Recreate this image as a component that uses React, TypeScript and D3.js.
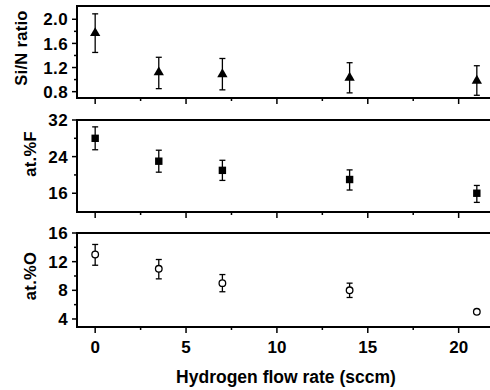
import React from "react";
import * as d3 from "d3";

const flow = [0, 3.5, 7, 14, 21];
const siN = [1.77, 1.12, 1.09, 1.03, 0.98];
const siNLo = [1.45, 0.85, 0.83, 0.78, 0.74];
const siNHi = [2.09, 1.37, 1.35, 1.28, 1.23];
const atF = [28.0, 23.0, 21.0, 19.0, 16.0];
const atFLo = [25.5, 20.6, 18.8, 16.7, 14.0];
const atFHi = [30.5, 25.4, 23.2, 21.1, 17.7];
const atO = [13.0, 11.0, 9.0, 8.0, 5.0];
const atOLo = [11.5, 9.6, 7.8, 7.0, 4.8];
const atOHi = [14.4, 12.3, 10.2, 9.0, 5.2];
const xTicks = [0, 5, 10, 15, 20];
const xMinor = [2.5, 7.5, 12.5, 17.5];
const siNTicks = [0.8, 1.2, 1.6, 2.0];
const siNMinor = [1.0, 1.4, 1.8];
const fTicks = [16, 24, 32];
const fMinor = [20, 28];
const oTicks = [4, 8, 12, 16];
const oMinor = [6, 10, 14];

const W = 490, H = 390;
const left = 77, right = 495;
const font = "'Liberation Sans', Arial, sans-serif";

const x = d3.scaleLinear().domain([-1, 22]).range([left, right]);

type Panel = {
  top: number; bottom: number; domain: [number, number];
  ticks: number[]; minor: number[]; fmt: (v: number) => string;
  vals: number[]; lo: number[]; hi: number[]; marker: string; label: string;
  lx: number; ly: number;
};

const panels: Panel[] = [
  { top: 6, bottom: 98, domain: [0.695, 2.22], ticks: siNTicks, minor: siNMinor, fmt: d3.format(".1f"), vals: siN, lo: siNLo, hi: siNHi, marker: "tri", label: "Si/N ratio", lx: 21, ly: 48 },
  { top: 120, bottom: 212, domain: [11.9, 32], ticks: fTicks, minor: fMinor, fmt: d3.format("d"), vals: atF, lo: atFLo, hi: atFHi, marker: "sq", label: "at.%F", lx: 30, ly: 154 },
  { top: 233, bottom: 327, domain: [2.88, 16], ticks: oTicks, minor: oMinor, fmt: d3.format("d"), vals: atO, lo: atOLo, hi: atOHi, marker: "circ", label: "at.%O", lx: 30, ly: 276 },
];

function Marker({ kind, cx, cy }: { kind: string; cx: number; cy: number }) {
  if (kind === "tri") {
    const p = d3.symbol().type(d3.symbolTriangle).size(46)();
    return <path d={p || ""} transform={`translate(${cx},${cy})`} fill="#000" />;
  }
  if (kind === "sq") {
    return <rect x={cx - 3.7} y={cy - 3.7} width={7.4} height={7.4} fill="#000" />;
  }
  return <circle cx={cx} cy={cy} r={3.3} fill="#fff" stroke="#000" strokeWidth={1.3} />;
}

export default function App() {
  return (
    <svg width={W} height={H} style={{ position: "absolute", left: 0, top: 0, background: "#fff" }} fontFamily={font}>
      <rect width={W} height={H} fill="#fff" />
      {panels.map((p, pi) => {
        const y = d3.scaleLinear().domain(p.domain).range([p.bottom, p.top]);
        return (
          <g key={pi}>
            <line x1={left} x2={right} y1={p.top} y2={p.top} stroke="#000" strokeWidth={2} />
            <line x1={left} x2={right} y1={p.bottom} y2={p.bottom} stroke="#000" strokeWidth={2} />
            <line x1={left} x2={left} y1={p.top - 1} y2={p.bottom + 1} stroke="#000" strokeWidth={2} />
            {xTicks.map((t) => (
              <line key={"xt" + t} x1={x(t)} x2={x(t)} y1={p.bottom} y2={p.bottom + 6} stroke="#000" strokeWidth={1.5} />
            ))}
            {xMinor.map((t) => (
              <line key={"xm" + t} x1={x(t)} x2={x(t)} y1={p.bottom} y2={p.bottom + 3} stroke="#000" strokeWidth={1.5} />
            ))}
            {p.ticks.map((t) => (
              <g key={"yt" + t}>
                <line x1={left - 5} x2={left} y1={y(t)} y2={y(t)} stroke="#000" strokeWidth={1.5} />
                <text x={left - 9} y={y(t)} dy="0.36em" textAnchor="end" fontSize={17} fontWeight="bold" letterSpacing={0.4}>{p.fmt(t)}</text>
              </g>
            ))}
            {p.minor.map((t) => (
              <line key={"ym" + t} x1={left - 3} x2={left} y1={y(t)} y2={y(t)} stroke="#000" strokeWidth={1.5} />
            ))}
            <text transform={`translate(${p.lx},${p.ly}) rotate(-90)`} textAnchor="middle" dy="0.36em" fontSize={16.5} fontWeight="bold" letterSpacing={0.3}>{p.label}</text>
            {flow.map((f, i) => {
              const cx = x(f);
              const yh = y(p.hi[i]), yl = y(p.lo[i]);
              return (
                <g key={"pt" + i}>
                  {Math.abs(yl - yh) > 4 && (
                    <g stroke="#000" strokeWidth={1.3}>
                      <line x1={cx} x2={cx} y1={yh} y2={yl} />
                      <line x1={cx - 3} x2={cx + 3} y1={yh} y2={yh} />
                      <line x1={cx - 3} x2={cx + 3} y1={yl} y2={yl} />
                    </g>
                  )}
                  <Marker kind={p.marker} cx={cx} cy={y(p.vals[i])} />
                </g>
              );
            })}
          </g>
        );
      })}
      {xTicks.map((t) => (
        <text key={"xl" + t} x={x(t)} y={347} dy="0.36em" textAnchor="middle" fontSize={17} fontWeight="bold">{t}</text>
      ))}
      <text x={286} y={377} dy="0.36em" textAnchor="middle" fontSize={17.5} fontWeight="bold">Hydrogen flow rate (sccm)</text>
    </svg>
  );
}
